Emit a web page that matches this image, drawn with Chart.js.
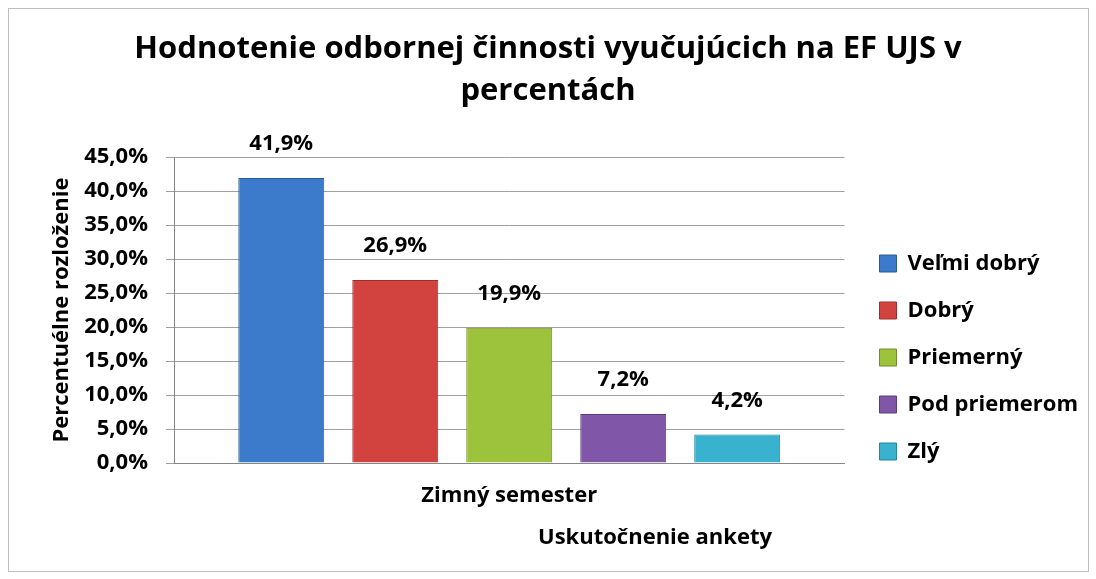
<!DOCTYPE html>
<html>
<head>
<meta charset="utf-8">
<script src="https://cdn.jsdelivr.net/npm/chart.js@4/dist/chart.umd.min.js"></script>
<style>
    html, body { margin: 0; padding: 0; background: #fff; }
    #wrap { position: relative; width: 1096px; height: 579px; }
    #frame { position: absolute; left: 8px; top: 8px; width: 1079px; height: 562px; border: 1px solid #bfbfbf; }
    canvas { position: absolute; left: 0; top: 0; }
</style>
</head>
<body>
<div id="wrap">
    <div id="frame"></div>
    <canvas id="chart" width="1096" height="579"></canvas>
</div>
<script>
// Dáta grafu
const categories = ['Zimný semester'];
const seriesNames = ['Veľmi dobrý', 'Dobrý', 'Priemerný', 'Pod priemerom', 'Zlý'];
const seriesValues = [41.9, 26.9, 19.9, 7.2, 4.2];
const yTicks = [0, 5, 10, 15, 20, 25, 30, 35, 40, 45];

const fills = ['#3c7bcb', '#d2423e', '#9dc23c', '#7f56a8', '#38b2cf'];
const edges = ['#2b5a94', '#9a302d', '#6f8c2b', '#5a3e7c', '#2a8298'];

const FONT = "'Open Sans', sans-serif";
const fmt = v => v.toFixed(1).replace('.', ',') + '%';

// popisky nad stĺpcami + názov osi X posunutý doprava
const labelsPlugin = {
    id: 'labels',
    afterLayout(chart) {
        // legenda je v Exceli nižšie a kúsok vpravo
        const lg = chart.legend;
        lg.top += 66; lg.bottom += 66;
        lg.left += 10; lg.right += 10;
    },
    afterDatasetsDraw(chart) {
        const ctx = chart.ctx;
        ctx.save();
        ctx.fillStyle = '#000';
        ctx.font = 'bold 22px ' + FONT;
        ctx.textAlign = 'center';
        ctx.textBaseline = 'middle';
        chart.data.datasets.forEach((ds, i) => {
            const bar = chart.getDatasetMeta(i).data[0];
            ctx.fillText(fmt(ds.data[0]), bar.x, bar.y - 34);
        });
        ctx.fillText('Uskutočnenie ankety', 655, 538);
        ctx.restore();
    }
};

new Chart(document.getElementById('chart'), {
    type: 'bar',
    data: {
        labels: categories,
        datasets: seriesNames.map((name, i) => ({
            label: name,
            data: [seriesValues[i]],
            backgroundColor: fills[i],
            borderColor: edges[i],
            borderWidth: 1,
            categoryPercentage: 0.85,
            barPercentage: 0.754
        }))
    },
    options: {
        responsive: false,
        animation: false,
        layout: { padding: { left: 18, right: 18, top: 28, bottom: 24 } },
        plugins: {
            title: {
                display: true,
                text: ['Hodnotenie odbornej činnosti vyučujúcich na EF UJS v', 'percentách'],
                color: '#000',
                font: { family: FONT, size: 31, weight: 'bold', lineHeight: 1.355 },
                padding: { top: 0, bottom: 45 }
            },
            legend: {
                position: 'right',
                align: 'center',
                labels: {
                    color: '#000',
                    boxWidth: 17,
                    boxHeight: 17,
                    padding: 25,
                    font: { family: FONT, size: 22, weight: 'bold' }
                }
            },
            tooltip: { enabled: false }
        },
        scales: {
            y: {
                min: 0,
                max: 45,
                afterBuildTicks: s => { s.ticks = yTicks.map(v => ({ value: v })); },
                afterFit: s => { s.width = 156; },
                ticks: {
                    color: '#000',
                    padding: 18,
                    font: { family: FONT, size: 22, weight: 'bold' },
                    callback: v => fmt(v)
                },
                grid: { color: '#a0a0a0', tickLength: 8 },
                border: { color: '#868686' },
                title: {
                    display: true,
                    text: 'Percentuélne rozloženie',
                    color: '#000',
                    padding: { top: 31, bottom: 4 },
                    font: { family: FONT, size: 22, weight: 'bold' }
                }
            },
            x: {
                afterFit: s => { s.height = 92; },
                ticks: {
                    color: '#000',
                    padding: 12,
                    font: { family: FONT, size: 22, weight: 'bold' }
                },
                grid: { display: false },
                border: { color: '#868686' }
            }
        }
    },
    plugins: [labelsPlugin]
});
</script>
</body>
</html>
